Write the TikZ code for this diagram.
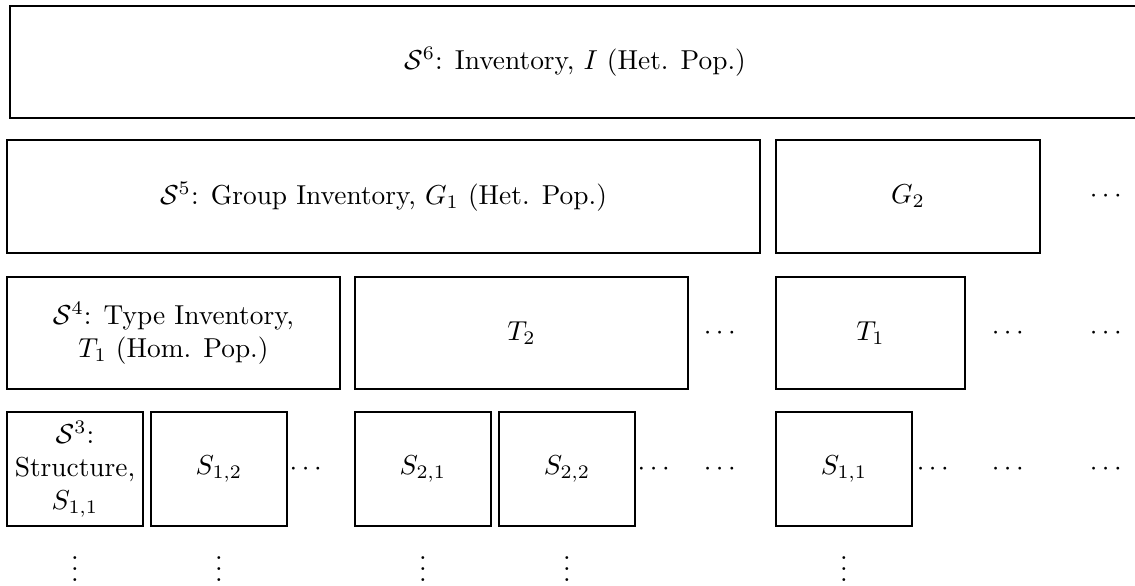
\documentclass[tikz,border=0pt]{standalone}
\usepackage{amsmath,amsfonts,amssymb}
\usetikzlibrary{positioning}

\tikzset{
	lvlbox/.style 2 args={rectangle,draw,align=center,inner sep=0pt,
		minimum width=#1*0.365pt,minimum height=#2*0.365pt},
}

\begin{document}
\begin{tikzpicture}[x=0.365pt,y=-0.365pt]
	\useasboundingbox (0,0) rectangle (1135,585);
	% level 6
	\node[lvlbox={1130}{112}] (inv) at (575,62) {$\mathcal{S}^6$: Inventory, $I$ (Het. Pop.)};
	% level 5
	\begin{scope}[every node/.append style={lvlbox={753}{113}}]
		\node (g1) at (383.5,196.5) {$\mathcal{S}^5$: Group Inventory, $G_1$ (Het. Pop.)};
	\end{scope}
	\node[lvlbox={264}{113}] (g2) at (908,196.5) {$G_2$};
	\node (gdots) at (1108,196.5) {$\cdots$};
	% level 4
	\begin{scope}[every node/.style={lvlbox={333}{112}}]
		\node (t1) at (173.5,333) {$\mathcal{S}^4$: Type Inventory,\\ $T_1$ (Hom. Pop.)};
		\node (t2) at (521.5,333) {$T_2$};
	\end{scope}
	\node[lvlbox={189}{112}] (t1b) at (870.5,333) {$T_1$};
	\node (tdotsa) at (722,333) {$\cdots$};
	\node (tdotsb) at (1010,333) {$\cdots$};
	\node (tdotsc) at (1108,333) {$\cdots$};
	% level 3
	\begin{scope}[every node/.style={lvlbox={136}{114}}]
		\node (s11) at (75,469) {$\mathcal{S}^3$:\\ Structure,\\ $S_{1,1}$};
		\node (s12) at (219,469) {$S_{1,2}$};
		\node (s21) at (423,469) {$S_{2,1}$};
		\node (s22) at (567,469) {$S_{2,2}$};
		\node (s11b) at (844,469) {$S_{1,1}$};
	\end{scope}
	\node (sdotsa) at (308,469) {$\cdots$};
	\node (sdotsb) at (656,469) {$\cdots$};
	\node (sdotsc) at (722,469) {$\cdots$};
	\node (sdotsd) at (935,469) {$\cdots$};
	\node (sdotse) at (1010,469) {$\cdots$};
	\node (sdotsf) at (1108,469) {$\cdots$};
	% below
	\foreach \x/\n in {75/a,219/b,423/c,567/d,844/e}
		\node (vdots\n) at (\x,561) {$\vdots$};
\end{tikzpicture}
\end{document}
